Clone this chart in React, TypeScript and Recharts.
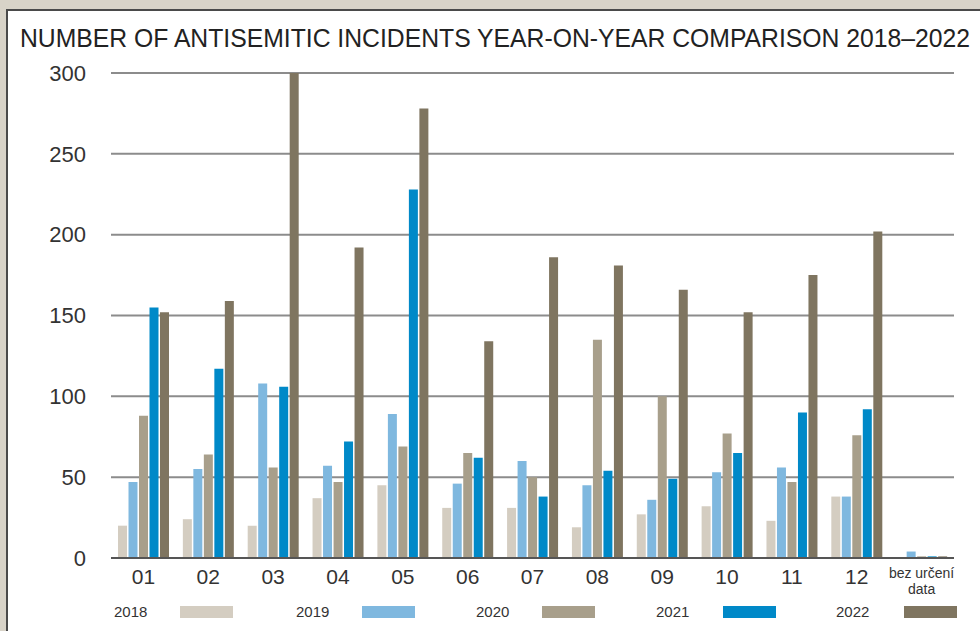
import React from "react";
import {
  BarChart,
  Bar,
  XAxis,
  YAxis,
  CartesianGrid,
  Legend,
} from "recharts";

if (typeof document !== "undefined") {
  document.body.style.margin = "0";
}

const months = ["01", "02", "03", "04", "05", "06", "07", "08", "09", "10", "11", "12", "bez určení data"];
const years = ["2018", "2019", "2020", "2021", "2022"];
const colors = ["#d4cdc1", "#7fb8df", "#a89f8b", "#0089c8", "#7f7560"];

const y2018 = [20, 24, 20, 37, 45, 31, 31, 19, 27, 32, 23, 38, 0];
const y2019 = [47, 55, 108, 57, 89, 46, 60, 45, 36, 53, 56, 38, 4];
const y2020 = [88, 64, 56, 47, 69, 65, 50, 135, 100, 77, 47, 76, 1];
const y2021 = [155, 117, 106, 72, 228, 62, 38, 54, 49, 65, 90, 92, 1];
const y2022 = [152, 159, 300, 192, 278, 134, 186, 181, 166, 152, 175, 202, 1];

const yTicks = [0, 50, 100, 150, 200, 250, 300];

const series = [y2018, y2019, y2020, y2021, y2022];

const data = months.map((m, i) => {
  const row: Record<string, string | number> = { month: m };
  years.forEach((y, k) => {
    row[y] = series[k][i];
  });
  return row;
});

const FONT = "'Liberation Sans', Arial, Helvetica, sans-serif";

// legend item x positions (text start, swatch start)
const legendText = [114, 296, 476, 656, 836];
const legendSwatch = [180, 362, 542, 723, 904];

const MonthTick = (props: any) => {
  const { x, y, payload } = props;
  const v: string = payload.value;
  if (v.startsWith("bez")) {
    return (
      <text x={x} y={y} textAnchor="middle" fill="#333" fontSize={14} fontFamily={FONT}>
        <tspan x={x} dy={12}>bez určení</tspan>
        <tspan x={x} dy={16}>data</tspan>
      </text>
    );
  }
  return (
    <text x={x} y={y} dy={18} textAnchor="middle" fill="#333" fontSize={21} fontFamily={FONT}>
      {v}
    </text>
  );
};

const LegendContent = () => (
  <div style={{ position: "relative", height: 33, width: "100%", fontFamily: FONT }}>
    {years.map((y, i) => (
      <React.Fragment key={y}>
        <span
          style={{
            position: "absolute",
            left: legendText[i],
            top: 5,
            fontSize: 15,
            color: "#333",
            lineHeight: "18px",
          }}
        >
          {y}
        </span>
        <span
          style={{
            position: "absolute",
            left: legendSwatch[i],
            top: 8,
            width: 53,
            height: 12,
            background: colors[i],
          }}
        />
      </React.Fragment>
    ))}
  </div>
);

export default function App() {
  return (
    <div style={{ position: "relative", width: 980, height: 631, background: "#d8d3c8", overflow: "hidden" }}>
      <div
        style={{
          position: "absolute",
          left: 6,
          top: 9,
          width: 980,
          height: 640,
          background: "#fff",
          borderLeft: "2px solid #4a4a4a",
          borderTop: "2px solid #4a4a4a",
        }}
      />
      <svg width={980} height={60} style={{ position: "absolute", left: 0, top: 0 }}>
        <text
          x={20}
          y={47}
          fontSize={25}
          fontFamily={FONT}
          fill="#222"
          textLength={950}
          lengthAdjust="spacingAndGlyphs"
        >
          NUMBER OF ANTISEMITIC INCIDENTS YEAR-ON-YEAR COMPARISON 2018–2022
        </text>
      </svg>
      <div style={{ position: "absolute", left: 0, top: 0 }}>
        <BarChart
          width={980}
          height={631}
          data={data}
          margin={{ top: 73, right: 26, left: 0, bottom: 0 }}
          barSize={9}
          barGap={1.5}
        >
          <CartesianGrid horizontal vertical={false} stroke="#8c8c8c" strokeWidth={2} />
          <XAxis
            dataKey="month"
            height={40}
            tickLine={false}
            axisLine={{ stroke: "#555", strokeWidth: 2 }}
            tick={<MonthTick />}
            interval={0}
          />
          <YAxis
            width={111}
            domain={[0, 300]}
            ticks={yTicks}
            tickLine={false}
            axisLine={false}
            tickMargin={19}
            tick={{ fontSize: 22, fill: "#333", fontFamily: FONT }}
          />
          <Legend verticalAlign="bottom" content={<LegendContent />} />
          {years.map((y, i) => (
            <Bar key={y} dataKey={y} fill={colors[i]} isAnimationActive={false} />
          ))}
        </BarChart>
      </div>
    </div>
  );
}
